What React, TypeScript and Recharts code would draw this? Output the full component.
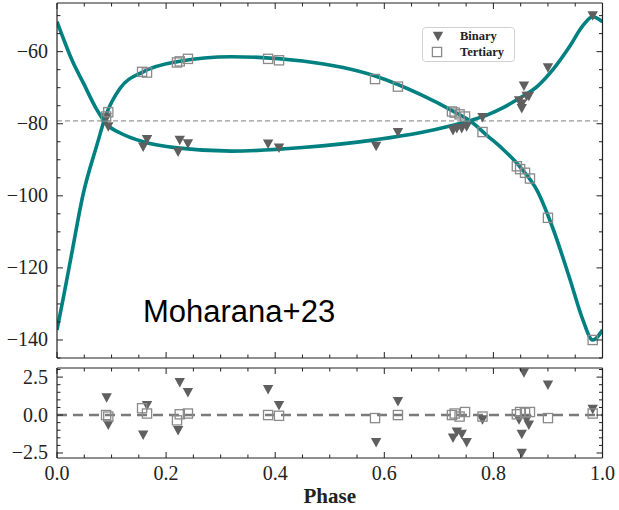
import React from 'react';
import { ComposedChart, Line, Scatter, XAxis, YAxis, ReferenceLine, Legend, Label } from 'recharts';

// ---------- data ----------
const curvePhase = [0, 0.012, 0.027, 0.048, 0.073, 0.09, 0.115, 0.158, 0.22, 0.32, 0.45, 0.586, 0.665, 0.726, 0.76, 0.788, 0.817, 0.849, 0.88, 0.909, 0.94, 0.964, 0.982, 1.0];
const binaryCurve = [-51.7, -56.5, -62.2, -68.6, -76.1, -80.0, -82.5, -85.0, -86.7, -87.6, -86.6, -84.4, -82.5, -80.4, -79.0, -77.6, -75.6, -72.8, -69.7, -65.0, -58.5, -52.8, -50.3, -51.7];
const tertiaryCurve = [-137.2, -128.0, -116.0, -99.5, -86.0, -77.5, -70.3, -65.6, -62.8, -61.4, -62.6, -66.9, -71.8, -76.5, -79.5, -83.2, -87.0, -92.0, -98.5, -109.0, -123.0, -134.4, -140.0, -137.2];

const binaryPhase = [0.091, 0.094, 0.158, 0.165, 0.222, 0.225, 0.24, 0.387, 0.407, 0.585, 0.625, 0.726, 0.733, 0.742, 0.751, 0.78, 0.847, 0.852, 0.852, 0.856, 0.861, 0.865, 0.9, 0.982];
const binaryRV = [-78.3, -80.8, -86.4, -84.3, -87.8, -84.5, -85.5, -85.6, -86.7, -86.2, -82.4, -81.8, -81.3, -81.3, -80.8, -78.2, -73.6, -74.5, -75.7, -69.5, -72.3, -72.3, -64.4, -50.0];
const binaryResidual = [1.15, -0.65, -1.3, 0.65, -1.0, 2.15, 1.5, 1.7, 0.65, -1.8, 0.9, -1.5, -1.1, -1.25, -1.8, -0.3, -0.3, -1.25, -2.5, 2.8, -0.3, -0.65, 2.0, 0.4];

const tertiaryPhase = [0.09, 0.094, 0.156, 0.165, 0.22, 0.225, 0.24, 0.387, 0.407, 0.583, 0.625, 0.724, 0.729, 0.738, 0.748, 0.78, 0.843, 0.849, 0.858, 0.867, 0.9, 0.982];
const tertiaryRV = [-78.0, -76.8, -65.6, -65.8, -63.0, -62.7, -62.0, -62.0, -62.4, -67.6, -69.7, -76.6, -76.9, -77.4, -78.0, -82.3, -91.8, -92.6, -93.6, -95.2, -106.1, -140.0];
const tertiaryResidual = [0.0, -0.1, 0.45, 0.1, -0.35, 0.05, 0.1, 0.0, -0.05, -0.2, 0.0, 0.0, 0.1, -0.1, 0.2, -0.1, 0.05, 0.2, 0.15, 0.2, -0.2, 0.1];

const systemicVelocity = -79.2;
const seriesNames = ['Binary', 'Tertiary'];
const annotation = 'Moharana+23';
const xLabel = 'Phase';

const xMajorTicks = [0, 0.2, 0.4, 0.6, 0.8, 1.0];
const xTicks = [0, 0.05, 0.1, 0.15, 0.2, 0.25, 0.3, 0.35, 0.4, 0.45, 0.5, 0.55, 0.6, 0.65, 0.7, 0.75, 0.8, 0.85, 0.9, 0.95, 1.0];
const rvMajorTicks = [-140, -120, -100, -80, -60];
const rvTicks = [-145, -140, -135, -130, -125, -120, -115, -110, -105, -100, -95, -90, -85, -80, -75, -70, -65, -60, -55, -50];
const resMajorTicks = [-2.5, 0, 2.5];
const resTicks = [-2.5, -2, -1.5, -1, -0.5, 0, 0.5, 1, 1.5, 2, 2.5, 3];

const xDomain = [0, 1];
const rvDomain = [-145, -46.5];
const resDomain = [-2.83, 3.1];

// ---------- derived tables ----------
const binaryModel = curvePhase.map((p, i) => ({ phase: p, v: binaryCurve[i] }));
const tertiaryModel = curvePhase.map((p, i) => ({ phase: p, v: tertiaryCurve[i] }));
const binaryPoints = binaryPhase.map((p, i) => ({ phase: p, v: binaryRV[i] }));
const tertiaryPoints = tertiaryPhase.map((p, i) => ({ phase: p, v: tertiaryRV[i] }));
const binaryResPoints = binaryPhase.map((p, i) => ({ phase: p, v: binaryResidual[i] }));
const tertiaryResPoints = tertiaryPhase.map((p, i) => ({ phase: p, v: tertiaryResidual[i] }));

// ---------- styles ----------
const FONT = '"Liberation Serif", "Times New Roman", serif';
const INK = '#222';
const TEAL = '#008080';
const TRI = '#5f5f5f';
const SQ = '#8a8a8a';
const MAJ = 6;
const MIN = 3.5;

const isMajor = (list: number[], v: number) => list.some((m) => Math.abs(m - v) < 1e-6);
const fmt = (v: number, d: number) => (v < 0 ? '\u2212' : '') + Math.abs(v).toFixed(d);

const BottomTick = (p: any) => {
  const { x, y, payload, major, label } = p;
  const big = isMajor(major, payload.value);
  return (
    <g>
      <line x1={x} x2={x} y1={y} y2={y - (big ? MAJ : MIN)} stroke={INK} strokeWidth={1} />
      {label && big ? (
        <text x={x} y={y + 22} textAnchor="middle" fontFamily={FONT} fontSize={20} fill={INK}>
          {fmt(payload.value, 1)}
        </text>
      ) : null}
    </g>
  );
};
const TopTick = (p: any) => {
  const { x, y, payload, major } = p;
  const big = isMajor(major, payload.value);
  return <line x1={x} x2={x} y1={y} y2={y + (big ? MAJ : MIN)} stroke={INK} strokeWidth={1} />;
};
const LeftTick = (p: any) => {
  const { x, y, payload, major, digits } = p;
  const big = isMajor(major, payload.value);
  return (
    <g>
      <line x1={x} x2={x + (big ? MAJ : MIN)} y1={y} y2={y} stroke={INK} strokeWidth={1} />
      {big ? (
        <text x={x - 9} y={y + 6.5} textAnchor="end" fontFamily={FONT} fontSize={20} fill={INK}>
          {fmt(payload.value, digits)}
        </text>
      ) : null}
    </g>
  );
};
const RightTick = (p: any) => {
  const { x, y, payload, major } = p;
  const big = isMajor(major, payload.value);
  return <line x1={x} x2={x - (big ? MAJ : MIN)} y1={y} y2={y} stroke={INK} strokeWidth={1} />;
};

const TriangleDown = (p: any) => {
  const { cx, cy } = p;
  if (cx == null || cy == null) return <g />;
  return <polygon points={`${cx - 5.2},${cy - 4.3} ${cx + 5.2},${cy - 4.3} ${cx},${cy + 5.2}`} fill={TRI} />;
};
const OpenSquare = (p: any) => {
  const { cx, cy } = p;
  if (cx == null || cy == null) return <g />;
  return <rect x={cx - 4.6} y={cy - 4.6} width={9.2} height={9.2} fill="none" stroke={SQ} strokeWidth={1.3} />;
};

const LegendBox = () => (
  <svg width={93} height={35} style={{ display: 'block' }}>
    <rect x={0.5} y={0.5} width={92} height={34} rx={3} fill="#fff" fillOpacity={0.85} stroke="#d0d0d0" />
    <TriangleDown cx={16} cy={9} />
    <OpenSquare cx={15} cy={25} />
    <text x={38} y={13} fontFamily={FONT} fontWeight="bold" fontSize={12.5} fill={INK}>{seriesNames[0]}</text>
    <text x={38} y={29} fontFamily={FONT} fontWeight="bold" fontSize={12.5} fill={INK}>{seriesNames[1]}</text>
  </svg>
);

const axisLine = { stroke: INK, strokeWidth: 1.2 };

export default function App() {
  return (
    <div style={{ position: 'absolute', left: 0, top: 0, width: 619, height: 510, background: '#fff' }}>
      <div style={{ position: 'absolute', left: 0, top: 0 }}>
        <ComposedChart width={619} height={362} margin={{ top: 2, right: 15.5, bottom: 3, left: 0 }}>
          <XAxis dataKey="phase" type="number" domain={xDomain} allowDataOverflow ticks={xTicks} interval={0}
            height={1} tickSize={0} tickMargin={0} tickLine={false} axisLine={axisLine}
            tick={(p: any) => <BottomTick {...p} major={xMajorTicks} label={false} />} />
          <XAxis xAxisId="top" orientation="top" dataKey="phase" type="number" domain={xDomain} allowDataOverflow ticks={xTicks} interval={0}
            height={1} tickSize={0} tickMargin={0} tickLine={false} axisLine={axisLine}
            tick={(p: any) => <TopTick {...p} major={xMajorTicks} />} />
          <YAxis type="number" domain={rvDomain} allowDataOverflow ticks={rvTicks} interval={0}
            width={57} tickSize={0} tickMargin={0} tickLine={false} axisLine={axisLine}
            tick={(p: any) => <LeftTick {...p} major={rvMajorTicks} digits={0} />} />
          <YAxis yAxisId="right" orientation="right" type="number" domain={rvDomain} allowDataOverflow ticks={rvTicks} interval={0}
            width={1} tickSize={0} tickMargin={0} tickLine={false} axisLine={axisLine}
            tick={(p: any) => <RightTick {...p} major={rvMajorTicks} />} />
          <ReferenceLine y={systemicVelocity} stroke="#9a9a9a" strokeWidth={1.2} strokeDasharray="5 3" />
          <Scatter name={seriesNames[0]} data={binaryPoints} dataKey="v" shape={TriangleDown} isAnimationActive={false} />
          <Scatter name={seriesNames[1]} data={tertiaryPoints} dataKey="v" shape={OpenSquare} isAnimationActive={false} />
          <Line data={binaryModel} dataKey="v" type="monotone" stroke={TEAL} strokeWidth={3.6} dot={false} activeDot={false} legendType="none" isAnimationActive={false} />
          <Line data={tertiaryModel} dataKey="v" type="monotone" stroke={TEAL} strokeWidth={3.6} dot={false} activeDot={false} legendType="none" isAnimationActive={false} />
          <Legend layout="vertical" align="center" verticalAlign="middle"
            wrapperStyle={{ left: 422, top: 27, width: 93, height: 35 }} content={() => <LegendBox />} />
        </ComposedChart>
      </div>
      <div style={{ position: 'absolute', left: 0, top: 362 }}>
        <ComposedChart width={619} height={148} margin={{ top: 5, right: 15.5, bottom: 51, left: 0 }}>
          <XAxis dataKey="phase" type="number" domain={xDomain} allowDataOverflow ticks={xTicks} interval={0}
            height={1} tickSize={0} tickMargin={0} tickLine={false} axisLine={axisLine}
            tick={(p: any) => <BottomTick {...p} major={xMajorTicks} label={true} />}>
            <Label value={xLabel} position="bottom" offset={29} fontFamily={FONT} fontWeight="bold" fontSize={21} fill={INK} />
          </XAxis>
          <XAxis xAxisId="top" orientation="top" dataKey="phase" type="number" domain={xDomain} allowDataOverflow ticks={xTicks} interval={0}
            height={1} tickSize={0} tickMargin={0} tickLine={false} axisLine={axisLine}
            tick={(p: any) => <TopTick {...p} major={xMajorTicks} />} />
          <YAxis type="number" domain={resDomain} allowDataOverflow ticks={resTicks} interval={0}
            width={57} tickSize={0} tickMargin={0} tickLine={false} axisLine={axisLine}
            tick={(p: any) => <LeftTick {...p} major={resMajorTicks} digits={1} />} />
          <YAxis yAxisId="right" orientation="right" type="number" domain={resDomain} allowDataOverflow ticks={resTicks} interval={0}
            width={1} tickSize={0} tickMargin={0} tickLine={false} axisLine={axisLine}
            tick={(p: any) => <RightTick {...p} major={resMajorTicks} />} />
          <ReferenceLine y={0} stroke="#7a7a7a" strokeWidth={2.6} strokeDasharray="10 6" />
          <Scatter data={binaryResPoints} dataKey="v" shape={TriangleDown} isAnimationActive={false} />
          <Scatter data={tertiaryResPoints} dataKey="v" shape={OpenSquare} isAnimationActive={false} />
        </ComposedChart>
      </div>
      <svg width={619} height={510} style={{ position: 'absolute', left: 0, top: 0, pointerEvents: 'none' }}>
        <text x={143} y={322} fontFamily='"Liberation Sans", Arial, sans-serif' fontSize={31} fill="#000">{annotation}</text>
      </svg>
    </div>
  );
}
